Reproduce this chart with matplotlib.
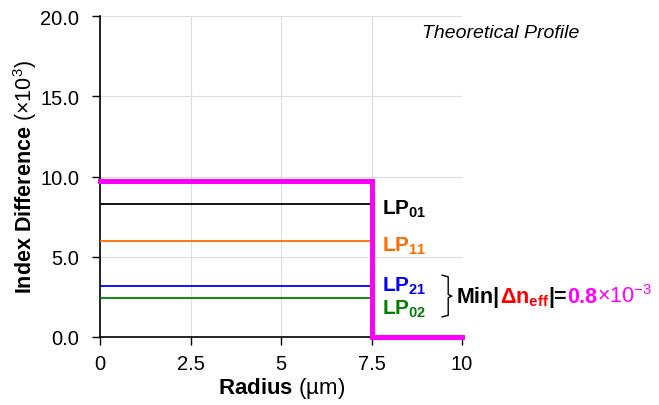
import matplotlib
matplotlib.use("Agg")
import matplotlib.pyplot as plt
from matplotlib.offsetbox import TextArea, HPacker, AnnotationBbox

plt.rcParams['font.family'] = ['Liberation Sans', 'DejaVu Sans']
plt.rcParams['mathtext.fontset'] = 'custom'
plt.rcParams['mathtext.rm'] = 'Liberation Sans'
plt.rcParams['mathtext.bf'] = 'Liberation Sans:bold'
plt.rcParams['mathtext.it'] = 'Liberation Sans:italic'

# step-index profile
profile_r = [0, 7.5, 7.5, 10]
profile_dn = [9.7, 9.7, 0, 0]
core_radius = 7.5

# modes (effective index difference, x10^3)
mode_names = ["01", "11", "21", "02"]
mode_neff = [8.3, 6.0, 3.2, 2.4]
mode_colors = ["black", "#FF6A00", "#0000FF", "#008000"]
label_offsets = [-0.3, -0.3, 0.0, -0.6]

x_ticks = [0, 2.5, 5, 7.5, 10]
x_ticklabels = ["0", "2.5", "5", "7.5", "10"]
y_ticks = [0, 5, 10, 15, 20]

fig = plt.figure(figsize=(6.59, 4.06), dpi=100)
ax = fig.add_axes([0.152, 0.1675, 0.549, 0.7905])

for name, val, c in zip(mode_names, mode_neff, mode_colors):
    ax.plot([0, core_radius], [val, val], color=c, lw=1.3, zorder=3)

ax.plot(profile_r, profile_dn, color="#FF00FF", lw=3.6, zorder=4,
        solid_joinstyle="miter", clip_on=False)

for name, val, c, off in zip(mode_names, mode_neff, mode_colors, label_offsets):
    ax.text(7.78, val + off, r"$\mathbf{LP}_{\mathbf{%s}}$" % name, color=c,
            fontsize=15, va="center", ha="left")

# brace next to LP21 / LP02
bx0, bx1, btop, bbot = 9.45, 9.62, 3.85, 1.25
bmid = (btop + bbot) / 2
ax.plot([bx0, bx1, bx1, bx1 + 0.1, bx1, bx1, bx0],
        [btop, btop - 0.1, bmid + 0.1, bmid, bmid - 0.1, bbot + 0.1, bbot],
        color="black", lw=1.0, clip_on=False)

parts = [
    ("Min|", "black", "bold"),
    (r"Δn$_\mathbf{eff}$", "#FF0000", "bold"),
    ("|=", "black", "bold"),
    ("0.8", "#FF00FF", "bold"),
    (r"×10$^{-3}$", "#FF00FF", "normal"),
]
boxes = [TextArea(t, textprops=dict(color=c, fontsize=15.5, fontweight=w))
         for t, c, w in parts]
pack = HPacker(children=boxes, align="baseline", pad=0, sep=0)
ab = AnnotationBbox(pack, (9.85, bmid), xycoords="data", box_alignment=(0, 0.5),
                    frameon=False, annotation_clip=False)
ax.add_artist(ab)

ax.text(11.08, 19.0, "Theoretical Profile", style="italic", fontsize=14,
        ha="center", va="center", clip_on=False)

ax.set_xlim(0, 10)
ax.set_ylim(0, 20)
ax.set_xticks(x_ticks)
ax.set_xticklabels(x_ticklabels)
ax.set_yticks(y_ticks)
ax.set_yticklabels(["%.1f" % v for v in y_ticks])
ax.tick_params(direction="out", length=6, width=1, labelsize=14.5, colors="black")
ax.tick_params(axis="y", pad=9)
ax.tick_params(axis="x", pad=6)
ax.grid(True, color="#DDDDDD", lw=0.8)
ax.set_axisbelow(True)
for s in ["top", "right"]:
    ax.spines[s].set_visible(False)
for s in ["left", "bottom"]:
    ax.spines[s].set_linewidth(1.2)

ax.set_xlabel(r"$\mathbf{Radius}$ (µm)", fontsize=16, labelpad=2)
ax.set_ylabel(r"$\mathbf{Index\ Difference}$ (×10$^3$)", fontsize=15.5, labelpad=1)

fig.savefig("out.png", dpi=100)
